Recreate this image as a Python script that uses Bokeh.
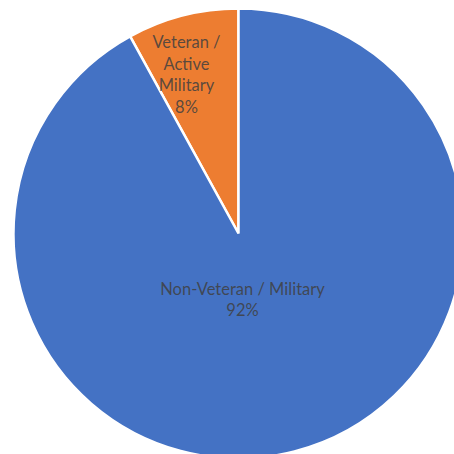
import numpy as np
from bokeh.plotting import figure
from bokeh.models import ColumnDataSource, Range1d
from bokeh.core.properties import value
from bokeh.embed import file_html
from bokeh.resources import INLINE

categories = ["Veteran /\nActive\nMilitary", "Non-Veteran / Military"]
shares = [8, 92]
colors = ["#ED7D31", "#4472C4"]

W = H = 454
cx, cy, r = 238, H - 233, 225

vals = np.array(shares, dtype=float)
frac = vals / vals.sum()
ends = np.pi / 2 + 2 * np.pi * np.cumsum(frac)
starts = np.concatenate([[np.pi / 2], ends[:-1]])

src = ColumnDataSource(dict(start=starts, end=ends, color=colors))

p = figure(width=W, height=H, x_range=Range1d(0, W), y_range=Range1d(0, H),
           output_backend="svg", toolbar_location=None, min_border=0)
p.axis.visible = False
p.grid.visible = False
p.outline_line_color = None
p.background_fill_color = "white"

p.wedge(x=cx, y=cy, radius=r, start_angle="start", end_angle="end",
        fill_color="color", line_color="white", line_width=2.5, source=src)

# label offsets from the centre (layout)
offsets = [(-52, 159), (4, -66)]
lx = [cx + dx for dx, dy in offsets]
ly = [cy + dy for dx, dy in offsets]
labels = [f"{c}\n{s}%" for c, s in zip(categories, shares)]
lsrc = ColumnDataSource(dict(x=lx, y=ly, text=labels))
p.text(x="x", y="y", text="text", source=lsrc, text_align="center",
       text_baseline="middle", text_font=value("Lato"), text_font_size="16.5px",
       text_color="#404040", text_alpha=0.85, text_line_height=1.07)

open("out.html", "w").write(file_html(p, INLINE))
